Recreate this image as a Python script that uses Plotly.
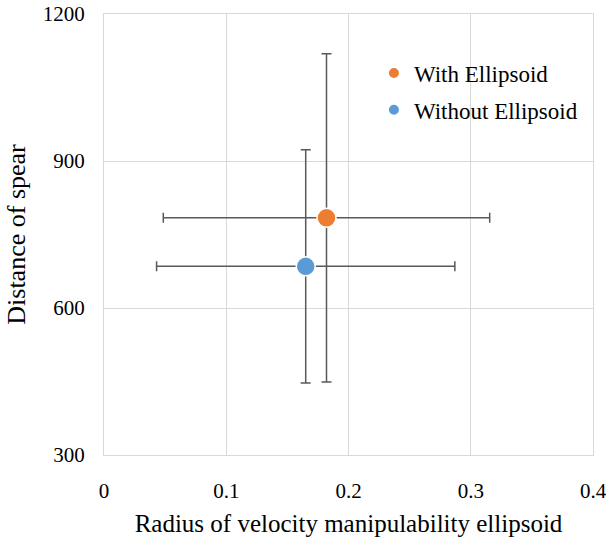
import plotly.graph_objects as go

series_names = ["With Ellipsoid", "Without Ellipsoid"]
series_colors = ["#ED7D31", "#5B9BD5"]
radius_vals = [0.182, 0.165]
radius_err = [0.1335, 0.122]
distance_vals = [784, 685]
distance_err = [335, 238]
x_ticks = [0, 0.1, 0.2, 0.3, 0.4]
y_ticks = [300, 600, 900, 1200]

fig = go.Figure()
for i, (name, col, x, xe, y, ye) in enumerate(zip(series_names, series_colors, radius_vals, radius_err, distance_vals, distance_err)):
    fig.add_trace(go.Scatter(
        x=[x], y=[y], name=name, mode="markers", legendgroup=f"g{i}",
        marker=dict(color=col, size=19, line=dict(color="white", width=1.5)),
        error_x=dict(type="data", array=[xe], color="#595959", thickness=1.5, width=5),
        error_y=dict(type="data", array=[ye], color="#595959", thickness=1.5, width=5),
    ))

font = "Liberation Serif, Times New Roman, serif"
fig.update_layout(
    width=606, height=541,
    margin=dict(l=103.5, r=12.5, t=14, b=86, autoexpand=False),
    paper_bgcolor="white", plot_bgcolor="white",
    font=dict(family=font, size=21, color="#000000"),
    showlegend=True,
    legend=dict(x=0.552, y=0.915, xanchor="left", yanchor="top",
                bgcolor="rgba(255,255,255,0)", font=dict(size=23),
                itemsizing="constant", traceorder="grouped", tracegroupgap=4),
    xaxis=dict(range=[0, 0.4], tickvals=x_ticks, ticktext=[f"{v:g}" for v in x_ticks],
               showgrid=True, gridcolor="#d9d9d9", gridwidth=1,
               showline=True, linecolor="#d9d9d9", linewidth=1, mirror=True,
               ticks="outside", ticklen=17, tickcolor="rgba(0,0,0,0)",
               zeroline=False, tickfont=dict(size=21), automargin=False,
               ticklabeloverflow="allow",
               title=dict(text="Radius of velocity manipulability ellipsoid", font=dict(size=25), standoff=12)),
    yaxis=dict(range=[300, 1200], tickvals=y_ticks,
               showgrid=True, gridcolor="#d9d9d9", gridwidth=1,
               showline=True, linecolor="#d9d9d9", linewidth=1, mirror=True,
               ticks="outside", ticklen=14, tickcolor="rgba(0,0,0,0)",
               zeroline=False, tickfont=dict(size=21), automargin=False,
               ticklabeloverflow="allow",
               title=dict(text="Distance of spear", font=dict(size=26), standoff=9)),
)
fig.write_html("out.html", config={"displayModeBar": False},
               post_script="document.body.style.margin='0';")
